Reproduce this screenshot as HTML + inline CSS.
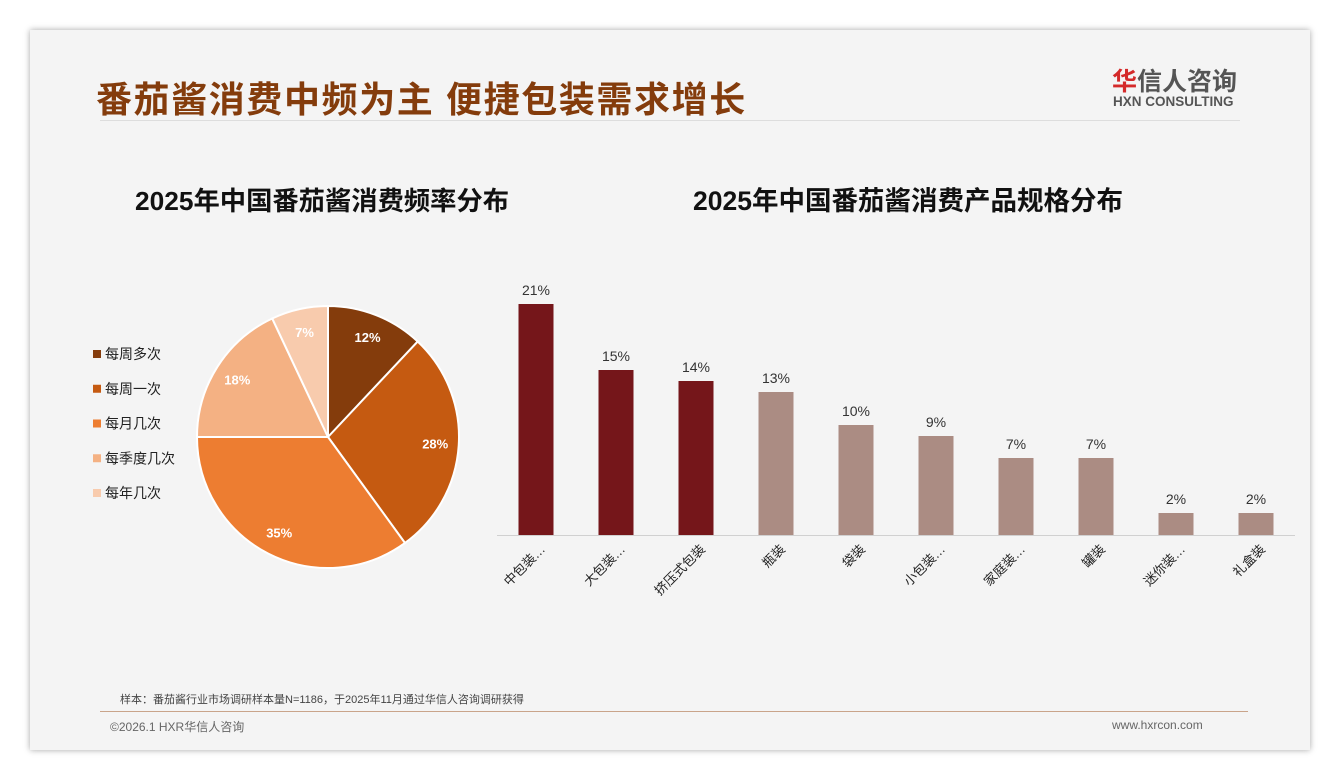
<!DOCTYPE html>
<html><head><meta charset="utf-8"><style>
body{margin:0;width:1340px;height:780px;background:#fff;font-family:"Liberation Sans","Noto Sans CJK SC",sans-serif;position:relative;overflow:hidden}
.card{position:absolute;left:30px;top:30px;width:1280px;height:720px;background:#f4f4f4;box-shadow:0 0 6px rgba(0,0,0,.35)}
.abs{position:absolute}
</style></head><body>
<div class="card"></div>
<div class="abs" style="left:96px;top:71px;font-size:36px;font-weight:bold;color:#843c0c;letter-spacing:1.6px;white-space:nowrap">番茄酱消费中频为主 便捷包装需求增长</div>
<div class="abs" style="left:100px;top:120px;width:1140px;height:1px;background:#ddd"></div>
<div class="abs" style="left:1112px;top:62px;font-size:25px;font-weight:bold;color:#555;white-space:nowrap"><span style="color:#d42a2a">华</span>信人咨询</div>
<div class="abs" style="left:1113px;top:94px;font-size:13.5px;font-weight:bold;color:#555;white-space:nowrap">HXN CONSULTING</div>
<div class="abs" style="left:135px;top:179px;font-size:26.3px;font-weight:bold;color:#111;white-space:nowrap">2025年中国番茄酱消费频率分布</div>
<div class="abs" style="left:693px;top:179px;font-size:26.5px;font-weight:bold;color:#111;white-space:nowrap">2025年中国番茄酱消费产品规格分布</div>
<svg class="abs" style="left:0;top:0" width="1340" height="780" id="chart"></svg>
<div class="abs" style="left:120px;top:691px;font-size:11px;color:#444">样本：番茄酱行业市场调研样本量N=1186，于2025年11月通过华信人咨询调研获得</div>
<div class="abs" style="left:100px;top:711px;width:1148px;height:1px;background:#c9a48a"></div>
<div class="abs" style="left:110px;top:718px;font-size:12px;color:#666">©2026.1 HXR华信人咨询</div>
<div class="abs" style="left:1112px;top:718px;font-size:12px;color:#666">www.hxrcon.com</div>
<script>
const pieLabels=["每周多次","每周一次","每月几次","每季度几次","每年几次"];
const pieValues=[12,28,35,18,7];
const pieColors=["#843c0c","#c55a11","#ed7d31","#f4b183","#f8cbad"];
const barCats=["中包装…","大包装…","挤压式包装","瓶装","袋装","小包装…","家庭装…","罐装","迷你装…","礼盒装"];
const barValues=[21,15,14,13,10,9,7,7,2,2];
const barColors=["#75161a","#75161a","#75161a","#ab8c83","#ab8c83","#ab8c83","#ab8c83","#ab8c83","#ab8c83","#ab8c83"];
const NS="http://www.w3.org/2000/svg",svg=document.getElementById('chart');
function mk(t,a,p){const e=document.createElementNS(NS,t);for(const k in a)e.setAttribute(k,a[k]);(p||svg).appendChild(e);return e;}
const cx=328,cy=437,r=131,tot=pieValues.reduce((a,b)=>a+b,0);let ang=0;
pieValues.forEach((v,i)=>{const a0=ang,a1=ang+v/tot*2*Math.PI;ang=a1;
const x0=cx+r*Math.sin(a0),y0=cy-r*Math.cos(a0),x1=cx+r*Math.sin(a1),y1=cy-r*Math.cos(a1);
const p=mk('path',{d:`M${cx},${cy}L${x0},${y0}A${r},${r} 0 ${a1-a0>Math.PI?1:0} 1 ${x1},${y1}Z`,fill:pieColors[i],stroke:'#fff','stroke-width':2});


const am=(a0+a1)/2,lr=r*0.82;
const t=mk('text',{x:cx+lr*Math.sin(am),y:cy-lr*Math.cos(am)+5,'text-anchor':'middle','font-size':13,'font-weight':'bold',fill:'#fff'});t.textContent=v+'%';


const ly=354+i*34.75;
const m=mk('rect',{x:93,y:ly-4,width:8,height:8,fill:pieColors[i]});


const lt=mk('text',{x:105,y:ly+5,'font-size':14,fill:'#222'});lt.textContent=pieLabels[i];


});
const base=535,scale=11,x0b=536,step=80,bw=35;
const ax=mk('line',{x1:497,x2:1295,y1:base+0.5,y2:base+0.5,stroke:'#d0d0d0'});


barValues.forEach((v,i)=>{const x=x0b+i*step,h=v*scale;
const b=mk('rect',{x:x-bw/2,y:base-h,width:bw,height:h,fill:barColors[i]});


const t=mk('text',{x:x,y:base-h-9,'text-anchor':'middle','font-size':14,fill:'#333'});t.textContent=v+'%';


const c=mk('text',{x:x+10,y:550,'text-anchor':'end','font-size':13,fill:'#222',transform:`rotate(-45 ${x+10} 550)`});c.textContent=barCats[i];


});
</script>
</body></html>
